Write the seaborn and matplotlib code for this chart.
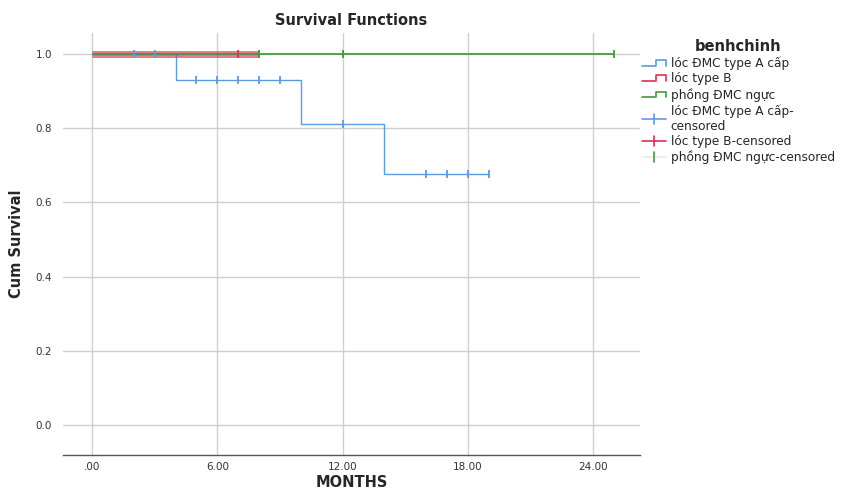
import seaborn as sns
import matplotlib.pyplot as plt
import numpy as np
import pandas as pd
from matplotlib.lines import Line2D
from matplotlib.legend_handler import HandlerBase

# step points (time, cum survival) per group
groups = ["lóc ĐMC type A cấp", "lóc type B", "phồng ĐMC ngực"]
a_time = [0, 4, 10, 14, 19]
a_surv = [1.0, 0.929, 0.8125, 0.677, 0.677]
b_time = [0, 8]
b_surv = [1.0, 1.0]
c_time = [0, 25]
c_surv = [1.0, 1.0]

# censored observations
a_cens_t = [2, 3, 5, 6, 7, 8, 9, 12, 16, 17, 18, 19]
a_cens_s = [1.0, 1.0, 0.929, 0.929, 0.929, 0.929, 0.929, 0.8125, 0.677, 0.677, 0.677, 0.677]
b_cens_t = [7]
b_cens_s = [1.0]
c_cens_t = [8, 12, 25]
c_cens_s = [1.0, 1.0, 1.0]

x_ticks = [0, 6, 12, 18, 24]
x_ticklabels = [".00", "6.00", "12.00", "18.00", "24.00"]
y_ticks = [0.0, 0.2, 0.4, 0.6, 0.8, 1.0]

colors = {"lóc ĐMC type A cấp": "#5a9be6", "lóc type B": "#dc2f55", "phồng ĐMC ngực": "#3f9a3f"}

steps = pd.concat([
    pd.DataFrame({"t": a_time, "s": a_surv, "g": groups[0]}),
    pd.DataFrame({"t": b_time, "s": b_surv, "g": groups[1]}),
    pd.DataFrame({"t": c_time, "s": c_surv, "g": groups[2]}),
])
cens = pd.concat([
    pd.DataFrame({"t": a_cens_t, "s": a_cens_s, "g": groups[0]}),
    pd.DataFrame({"t": b_cens_t, "s": b_cens_s, "g": groups[1]}),
    pd.DataFrame({"t": c_cens_t, "s": c_cens_s, "g": groups[2]}),
])

sns.set_style("white")
plt.rcParams['font.family'] = ['DejaVu Sans']

fig = plt.figure(figsize=(8.49, 4.90), dpi=100)
ax = fig.add_axes([0.0742, 0.0714, 0.6796, 0.8613])

widths = {groups[0]: 1.0, groups[1]: 5.0, groups[2]: 1.4}
alphas = {groups[0]: 1.0, groups[1]: 0.65, groups[2]: 0.9}
for g in groups:
    d = steps[steps.g == g]
    sns.lineplot(data=d, x="t", y="s", ax=ax, color=colors[g], lw=widths[g],
                 alpha=alphas[g], drawstyle="steps-post", estimator=None, sort=False,
                 solid_capstyle="butt")
    dc = cens[cens.g == g]
    sns.scatterplot(data=dc, x="t", y="s", ax=ax, color=colors[g], marker="|",
                    s=40, linewidth=1.3, zorder=5)

ax.set_xlim(-1.39, 26.25)
ax.set_ylim(-0.081, 1.057)
ax.set_xticks(x_ticks)
ax.set_xticklabels(x_ticklabels)
ax.set_yticks(y_ticks)
ax.set_yticklabels([f"{v:.1f}" for v in y_ticks])
ax.grid(True, color="#cfcfcf", lw=1.0)
ax.set_axisbelow(True)
for s in ["top", "right", "left"]:
    ax.spines[s].set_visible(False)
ax.spines["bottom"].set_color("#555555")
ax.spines["bottom"].set_linewidth(1.0)
ax.tick_params(axis="y", length=0, labelsize=7.5, labelcolor="#333333", pad=8)
ax.tick_params(axis="x", length=0, labelsize=7.5, labelcolor="#333333", pad=5)
ax.set_xlabel("MONTHS", fontsize=10.5, fontweight="bold", labelpad=2)
ax.set_ylabel("Cum Survival", fontsize=10.5, fontweight="bold", labelpad=8)
ax.set_title("Survival Functions", fontsize=10.5, fontweight="bold", pad=6)


class StepHandler(HandlerBase):
    def create_artists(self, legend, orig_handle, xdescent, ydescent, width, height, fontsize, trans):
        xs = np.array([0, 0.6, 0.6, 1.0, 1.0]) * width - xdescent
        ys = np.array([0.15, 0.15, 0.85, 0.85, 0.15]) * height - ydescent
        ln = Line2D(xs, ys, color=orig_handle.get_color(), lw=1.2, transform=trans)
        return [ln]


class CensHandler(HandlerBase):
    def create_artists(self, legend, orig_handle, xdescent, ydescent, width, height, fontsize, trans):
        yc = 0.5 * height - ydescent
        ln = Line2D([-xdescent, width - xdescent], [yc, yc], color=orig_handle.get_color(),
                    lw=1.2, transform=trans)
        tick = Line2D([0.5 * width - xdescent] * 2, [yc - 0.6 * height, yc + 0.6 * height],
                      color=orig_handle.get_markeredgecolor(), lw=1.2, transform=trans)
        return [ln, tick]


step_handles = [Line2D([], [], color=colors[g]) for g in groups]
cens_handles = [
    Line2D([], [], color=colors[groups[0]], markeredgecolor=colors[groups[0]]),
    Line2D([], [], color=colors[groups[1]], markeredgecolor=colors[groups[1]]),
    Line2D([], [], color="#e6efe6", markeredgecolor=colors[groups[2]]),
]
labels = groups + ["lóc ĐMC type A cấp-\ncensored", "lóc type B-censored", "phồng ĐMC ngực-censored"]
hmap = {h: StepHandler() for h in step_handles}
hmap.update({h: CensHandler() for h in cens_handles})
leg = fig.legend(step_handles + cens_handles, labels, handler_map=hmap,
                 loc="upper left", bbox_to_anchor=(0.750, 0.93), frameon=False,
                 fontsize=8.7, title="benhchinh", handlelength=2.0, handletextpad=0.4,
                 labelspacing=0.2, borderaxespad=0)
leg.get_title().set_fontweight("bold")
leg.get_title().set_fontsize(10.5)

fig.savefig("out.png", dpi=100)
